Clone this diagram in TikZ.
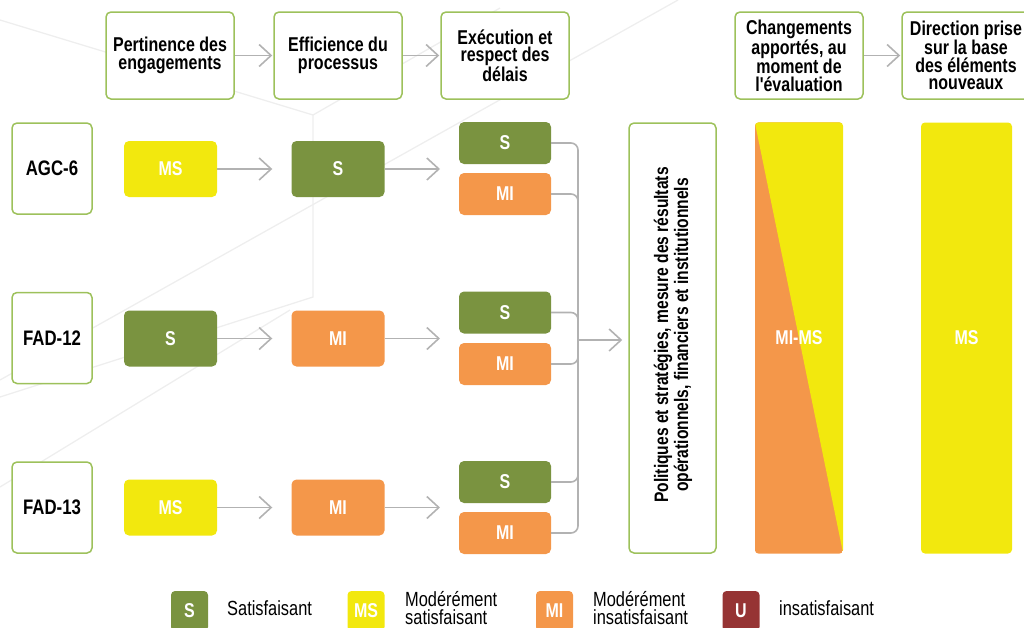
\documentclass[tikz,border=0pt]{standalone}
\usepackage{fontspec}
\usetikzlibrary{arrows.meta}
\newfontfamily\cond{Liberation Sans}[FakeStretch=0.8]
\definecolor{lgreen}{RGB}{157,193,91}
\definecolor{sgreen}{RGB}{122,147,64}
\definecolor{myellow}{RGB}{242,232,14}
\definecolor{morange}{RGB}{244,151,74}
\definecolor{ured}{RGB}{150,52,52}
\definecolor{agray}{RGB}{178,178,178}
\definecolor{bgline}{RGB}{238,238,238}
\begin{document}
\begin{tikzpicture}[x=1pt,y=-1pt,
  hdr/.style={draw=lgreen, line width=1.5pt, rounded corners=5pt, fill=white,
    minimum width=128pt, minimum height=87pt, align=center, inner sep=2pt,
    font=\cond\bfseries\fontsize{20}{17.5}\selectfont},
  lbl/.style={draw=lgreen, line width=1.5pt, rounded corners=5pt, fill=white,
    minimum width=80pt, minimum height=91pt,
    font=\cond\bfseries\fontsize{21}{18}\selectfont},
  rate/.style={rounded corners=5pt, minimum width=93pt, minimum height=56pt,
    text=white, font=\cond\bfseries\fontsize{20}{17}\selectfont, inner sep=0pt},
  small/.style={rounded corners=5pt, minimum width=92pt, minimum height=42pt,
    text=white, font=\cond\bfseries\fontsize{20}{17}\selectfont, inner sep=0pt},
  leg/.style={rounded corners=4pt, minimum width=37pt, minimum height=40pt,
    text=white, font=\cond\bfseries\fontsize{20}{17}\selectfont, inner sep=0pt},
  legt/.style={anchor=west, align=left, inner sep=0pt,
    font=\cond\fontsize{20.5}{17.5}\selectfont},
  arr/.style={draw=agray, line width=1.6pt,
    -{Straight Barb[length=12pt,width=22pt,line width=1.6pt]}},
  conn/.style={draw=agray, line width=1.6pt, rounded corners=7pt},
  bg/.style={draw=bgline, line width=1.3pt}
]
\useasboundingbox (0,0) rectangle (1024,627);
\clip (0,0) rectangle (1024,627);
% faint background pattern
\draw[bg] (0,20) -- (313,115) -- (313,297) -- (0,397);
\draw[bg] (313,115) -- (500,8);
\draw[bg] (0,380) -- (678,0);
\draw[bg] (0,487) -- (290,310);

% header boxes
\node[hdr] (h1) at (170,55.5) {Pertinence des\\engagements};
\node[hdr] (h2) at (338,55.5) {Efficience du\\processus};
\node[hdr] (h3) at (505,55.5) {Exécution et\\respect des\\délais};
\node[hdr] (h4) at (799,55.5) {Changements\\apportés, au\\moment de\\l'évaluation};
\node[hdr] (h5) at (966,55.5) {Direction prise\\sur la base\\des éléments\\nouveaux};
\draw[arr, shorten >=1pt] (h1.east) -- (h2.west);
\draw[arr, shorten >=1pt] (h2.east) -- (h3.west);
\draw[arr, shorten >=1pt] (h4.east) -- (h5.west);

% row labels
\node[lbl] (r1) at (52,168.5) {AGC-6};
\node[lbl] (r2) at (52,338) {FAD-12};
\node[lbl] (r3) at (52,507.5) {FAD-13};

% column 1
\node[rate, fill=myellow] (a1) at (170.5,169) {MS};
\node[rate, fill=sgreen] (a2) at (170.5,338.5) {S};
\node[rate, fill=myellow] (a3) at (170.5,507.5) {MS};
% column 2
\node[rate, fill=sgreen] (b1) at (338,169) {S};
\node[rate, fill=morange] (b2) at (338,338.5) {MI};
\node[rate, fill=morange] (b3) at (338,507.5) {MI};
% column 3
\node[small, fill=sgreen] (c1s) at (505,143) {S};
\node[small, fill=morange] (c1m) at (505,194) {MI};
\node[small, fill=sgreen] (c2s) at (505,312.5) {S};
\node[small, fill=morange] (c2m) at (505,364) {MI};
\node[small, fill=sgreen] (c3s) at (505,482) {S};
\node[small, fill=morange] (c3m) at (505,533) {MI};
% entry points of column 3 (between its two boxes)
\coordinate (e1) at (459,169);
\coordinate (e2) at (459,338.5);
\coordinate (e3) at (459,507.5);

\foreach \i in {1,2,3}{
  \draw[arr, shorten >=19pt] (a\i.east) -- (b\i.west);
  \draw[arr, shorten >=19pt] (b\i.east) -- (e\i);
}

% merge bracket
\coordinate (jn) at (578,340);
\foreach \n in {c1s,c1m,c2s,c2m,c3s,c3m}{
  \draw[conn] (\n.east) -| (jn);
}

% politiques box
\node[draw=lgreen, line width=1.5pt, rounded corners=5pt, fill=white,
  minimum width=87pt, minimum height=430pt] (pol) at (672.5,338) {};
\node[rotate=90, align=center, inner sep=0pt,
  font=\cond\bfseries\fontsize{19.5}{20}\selectfont] (polt) at (673,335)
  {Politiques et stratégies, mesure des résultats\\opérationnels, financiers et institutionnels};
\draw[arr, shorten >=6pt] (jn) -- (pol.west |- jn);

% changes bar
\node[minimum width=88pt, minimum height=431pt, inner sep=0pt] (chg) at (799,338) {};
\begin{scope}
  \clip[rounded corners=4pt] (chg.north west) rectangle (chg.south east);
  \fill[morange] (chg.north west) rectangle (chg.south east);
  \fill[myellow] (chg.north west) -- (chg.north east) -- (chg.south east) -- cycle;
\end{scope}
\node[text=white, font=\cond\bfseries\fontsize{20}{17}\selectfont] (chgt) at (chg.center) {MI-MS};

% direction bar
\node[fill=myellow, rounded corners=4pt, minimum width=91pt, minimum height=431pt,
  text=white, font=\cond\bfseries\fontsize{20}{17}\selectfont] (dir) at (966.5,338) {MS};

% legend
\node[leg, fill=sgreen] (lS) at (189.5,611) {S};
\node[legt] (tS) at (227,608) {Satisfaisant};
\node[leg, fill=myellow] (lMS) at (366,611) {MS};
\node[legt] (tMS) at (405,608) {Modérément\\satisfaisant};
\node[leg, fill=morange] (lMI) at (554.5,611) {MI};
\node[legt] (tMI) at (593,608) {Modérément\\insatisfaisant};
\node[leg, fill=ured] (lU) at (741,611) {U};
\node[legt] (tU) at (779,608) {insatisfaisant};
\end{tikzpicture}
\end{document}
